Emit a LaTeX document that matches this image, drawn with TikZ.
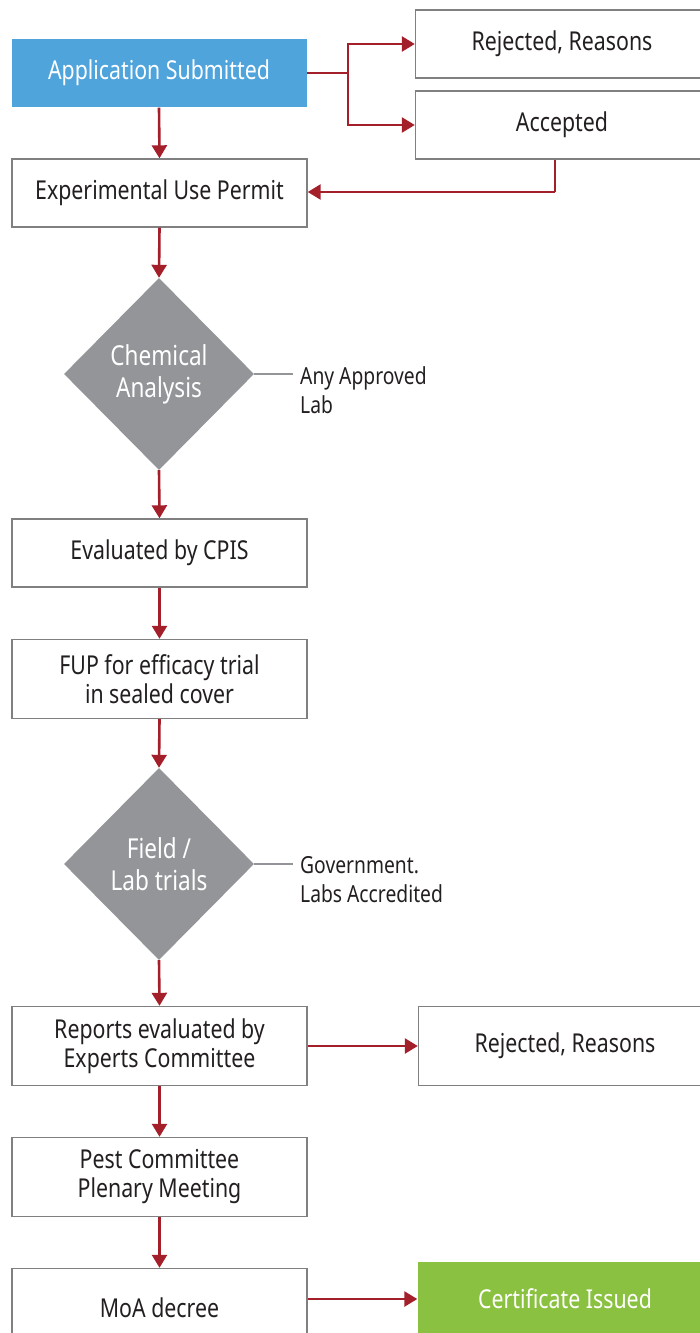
\documentclass[tikz,border=0pt]{standalone}
\usepackage{fontspec}
\setmainfont[FakeStretch=0.82]{Noto Sans}
\usetikzlibrary{arrows.meta,shapes.geometric}
\definecolor{arrred}{HTML}{A3202A}
\definecolor{boxgray}{HTML}{808080}
\definecolor{diagray}{HTML}{939598}
\definecolor{appblue}{HTML}{4FA4DC}
\definecolor{certgreen}{HTML}{8AC140}
\definecolor{txt}{HTML}{231F20}
\tikzset{
  boxfont/.style={font=\fontsize{26}{29}\selectfont},
  stepbox/.style={draw=boxgray, line width=1.4pt, fill=white, minimum width=295pt, minimum height=68pt, inner sep=0pt, align=center, text=txt, boxfont},
  tallbox/.style={stepbox, minimum height=79pt},
  sidebox/.style={stepbox, minimum width=287pt},
  boxlabel/.style={text=txt, boxfont, inner sep=0pt},
  decide/.style={diamond, fill=diagray, minimum width=190pt, minimum height=192pt, inner sep=0pt, align=center, text=white, font=\fontsize{27.5}{32}\selectfont},
  flow/.style={draw=arrred, line width=2.6pt, -{Triangle[length=13pt,width=15pt]}},
  link/.style={draw=arrred, line width=2.6pt},
  note/.style={align=left, anchor=west, text=txt, font=\fontsize{23.5}{29}\selectfont, inner sep=0pt},
  tie/.style={draw=diagray, line width=2pt}
}
\begin{document}
\begin{tikzpicture}[x=1pt,y=-1pt]
\useasboundingbox (0,0) rectangle (700,1333);
\clip (0,0) rectangle (700,1333);
% nodes
\node[stepbox, draw=none, fill=appblue, text=white] (app) at (159,73) {Application Submitted};
\node[sidebox] (rej1) at (559,44) {};
\node[boxlabel] (rej1t) at (562,44) {Rejected, Reasons};
\node[sidebox] (acc) at (559,125) {};
\node[boxlabel] (acct) at (562,125) {Accepted};
\node[stepbox] (eup) at (159.5,193) {Experimental Use Permit};
\node[decide] (chem) at (159,374) {Chemical\\Analysis};
\node[note] (lab1) at (300,390) {Any Approved\\Lab};
\node[stepbox] (cpis) at (159.5,553) {Evaluated by CPIS};
\node[tallbox] (fup) at (159.5,679) {FUP for efficacy trial\\in sealed cover};
\node[decide] (field) at (159,864) {Field /\\Lab trials};
\node[note] (lab2) at (300,880) {Government.\\Labs Accredited};
\node[tallbox] (rep) at (159.5,1046) {Reports evaluated by\\Experts Committee};
\node[sidebox, minimum height=79pt] (rej2) at (562,1046) {};
\node[boxlabel] (rej2t) at (565,1046) {Rejected, Reasons};
\node[tallbox] (pest) at (159.5,1177) {Pest Committee\\Plenary Meeting};
\node[tallbox] (moa) at (159.5,1308) {MoA decree};
\node[stepbox, draw=none, fill=certgreen, minimum width=290pt, minimum height=74pt] (cert) at (563,1299) {};
\node[boxlabel, text=white] (certt) at (565,1299) {Certificate Issued};
% connectors
\coordinate (split) at (348,73);
\draw[link] (app.east) -- (split);
\draw[flow] (split) |- (rej1.west);
\draw[flow] (split) |- (acc.west);
\coordinate (accdown) at (555,192);
\draw[link] (acc.south -| accdown) -- (accdown);
\draw[flow] (accdown) -- (eup.east |- accdown);
\draw[flow] (app.south) -- (eup.north);
\draw[flow] (eup.south) -- (chem.north);
\draw[tie] (chem.east) -- (293,374);
\draw[flow] (chem.south) -- (cpis.north);
\draw[flow] (cpis.south) -- (fup.north);
\draw[flow] (fup.south) -- (field.north);
\draw[tie] (field.east) -- (293,864);
\draw[flow] (field.south) -- (rep.north);
\draw[flow] (rep.east) -- (rej2.west);
\draw[flow] (rep.south) -- (pest.north);
\draw[flow] (pest.south) -- (moa.north);
\draw[flow] (moa.east |- cert.center) -- (cert.west);
\end{tikzpicture}
\end{document}
